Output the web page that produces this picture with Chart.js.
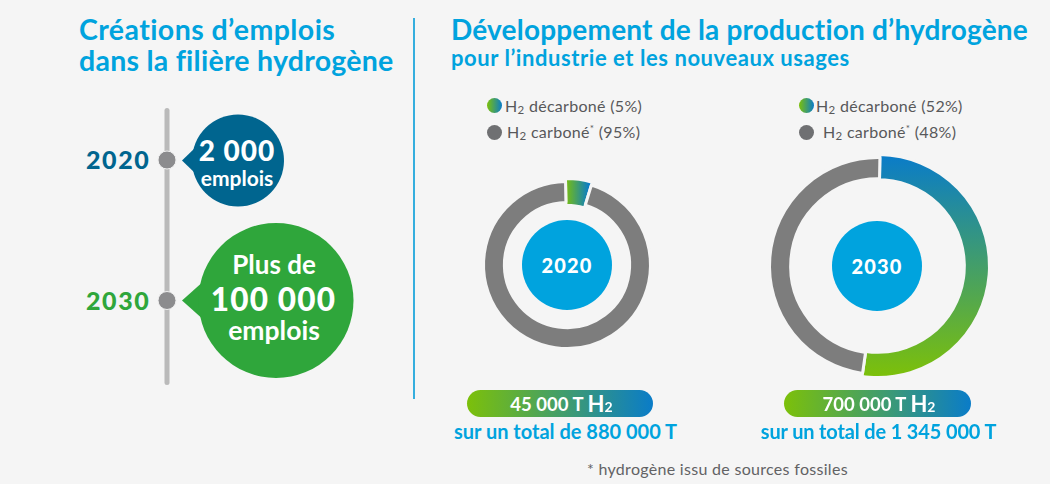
<!DOCTYPE html>
<html lang="fr">
<head>
<meta charset="utf-8">
<title>Hydrogène</title>
<script src="https://cdn.jsdelivr.net/npm/chart.js@4"></script>
<style>
html, body { margin: 0; padding: 0; background: #f5f5f5; }
#page { position: relative; width: 1050px; height: 484px; overflow: hidden; background: #f5f5f5; font-family: Lato, sans-serif; }
#page > * { position: absolute; }
.t { white-space: nowrap; line-height: 1; }
.title { color: #00a3de; font-weight: 700; }
.legend { color: #58585a; font-size: 16px; letter-spacing: 0.3px; }
.legend small { font-size: 11.500px; position: relative; top: 2px; }
.legend sup { font-size: 10px; line-height: 0; }
.dot { width: 15px; height: 15px; border-radius: 50%; }
.center { width: 90px; height: 90px; border-radius: 50%; background: #00a3de; color: #fff; font-weight: 900; font-size: 20px; letter-spacing: 1.2px; display: flex; align-items: center; justify-content: center; }
.pill { height: 27px; border-radius: 14px; background: linear-gradient(90deg, #7cc00a, #0a7cc8); color: #fff; font-weight: 700; font-size: 18.500px; display: flex; align-items: center; justify-content: center; padding-left: 3px; box-sizing: border-box; }
.pill small { font-size: 14px; position: relative; top: 3px; }
.pill b { font-size: 22px; font-weight: 700; margin-left: 4px; }
.total { color: #00a3de; font-weight: 700; font-size: 20px; transform: translateX(-50%); }
</style>
</head>
<body>
<div id="page">
  <div class="t title" style="left:79px;top:15px;font-size:28.500px;letter-spacing:0.420px">Créations d’emplois</div>
  <div class="t title" style="left:79px;top:46px;font-size:28.500px;letter-spacing:0.250px">dans la filière hydrogène</div>
  <div class="t title" style="left:451px;top:15px;font-size:28px;letter-spacing:0.190px">Développement de la production d’hydrogène</div>
  <div class="t title" style="left:451px;top:47px;font-size:22px;letter-spacing:0.560px">pour l’industrie et les nouveaux usages</div>
  <div style="left:413px;top:18px;width:2px;height:381px;background:#35aede"></div>

  <svg style="left:0;top:0" width="412" height="484">
    <rect x="164.500" y="108" width="5" height="277" rx="2.500" fill="#bababa"/>
    <circle cx="167" cy="160" r="9" fill="#8c8c8e" stroke="#f0f0f0"/>
    <circle cx="167" cy="300.500" r="9" fill="#8c8c8e" stroke="#f0f0f0"/>
    <path d="M182 160.500 L197 146 L197 175 Z" fill="#00658f"/>
    <circle cx="238" cy="160.500" r="46" fill="#00658f"/>
    <path d="M182 300.500 L205 280 L205 321 Z" fill="#2fa63b"/>
    <circle cx="276" cy="300.500" r="77.500" fill="#2fa63b"/>
  </svg>

  <div class="t" id="year1" style="left:86px;top:147px;font-size:25px;font-weight:900;color:#00658f;letter-spacing:1.600px"></div>
  <div class="t" id="year2" style="left:86px;top:288px;font-size:25px;font-weight:900;color:#2fa63b;letter-spacing:1.600px"></div>
  <div class="t" id="jobs1" style="left:237px;top:136px;font-size:28px;font-weight:900;color:#fff;transform:translateX(-50%);letter-spacing:1px"></div>
  <div class="t" style="left:237px;top:167px;font-size:21px;font-weight:700;color:#fff;transform:translateX(-50%)">emplois</div>
  <div class="t" style="left:274px;top:251px;font-size:26px;font-weight:700;color:#fff;transform:translateX(-50%)">Plus de</div>
  <div class="t" id="jobs2" style="left:273.500px;top:284px;font-size:31.500px;font-weight:900;color:#fff;transform:translateX(-50%);letter-spacing:1.200px"></div>
  <div class="t" style="left:274px;top:317px;font-size:26.500px;font-weight:700;color:#fff;transform:translateX(-50%)">emplois</div>

  <div class="dot" style="left:487px;top:98px;background:linear-gradient(90deg,#7cc00a,#0a7cc8)"></div>
  <div class="dot" style="left:487px;top:125px;background:#6f7072"></div>
  <div class="t legend" id="leg1a" style="left:505px;top:98px"></div>
  <div class="t legend" id="leg1b" style="left:507px;top:124px"></div>

  <div class="dot" style="left:799px;top:98px;background:linear-gradient(90deg,#7cc00a,#0a7cc8)"></div>
  <div class="dot" style="left:799px;top:125px;background:#6f7072"></div>
  <div class="t legend" id="leg2a" style="left:816px;top:98px"></div>
  <div class="t legend" id="leg2b" style="left:823px;top:124px"></div>

  <canvas id="donut1" width="240" height="240" style="left:447px;top:145px"></canvas>
  <canvas id="donut2" width="260" height="260" style="left:748px;top:136px"></canvas>

  <div class="center" id="center1" style="left:522px;top:220px"></div>
  <div class="center" id="center2" style="left:832px;top:221px"></div>

  <div class="pill" id="pill1" style="left:467px;top:390px;width:186px"></div>
  <div class="pill" id="pill2" style="left:784px;top:390px;width:187px"></div>
  <div class="t total" id="total1" style="left:565.500px;top:421px"></div>
  <div class="t total" id="total2" style="left:878.500px;top:421px;letter-spacing:-0.150px"></div>

  <div class="t" style="left:587px;top:461px;font-size:16px;color:#626264;letter-spacing:0.300px">* hydrogène issu de sources fossiles</div>
</div>

<script>
let years = ["2020", "2030"];
let jobs = ["2 000", "100 000"];
let decarbone = [5, 52];
let carbone = [95, 48];
let tonnesH2 = ["45 000", "700 000"];
let totals = ["880 000", "1 345 000"];
let sliceNames = ["H2 décarboné", "H2 carboné*"];

let bg = "#f5f5f5";
let grey = "#7d7d7d";

document.getElementById("year1").textContent = years[0];
document.getElementById("year2").textContent = years[1];
document.getElementById("jobs1").textContent = jobs[0];
document.getElementById("jobs2").textContent = jobs[1];

for (let i = 0; i < 2; i++) {
  let n = i + 1;
  document.getElementById("center" + n).textContent = years[i];
  document.getElementById("leg" + n + "a").innerHTML = "H<small>2</small> décarboné (" + decarbone[i] + "%)";
  document.getElementById("leg" + n + "b").innerHTML = "H<small>2</small> carboné<sup>*</sup> (" + carbone[i] + "%)";
  document.getElementById("pill" + n).innerHTML = tonnesH2[i] + " T<b>H</b><small>2</small>";
  document.getElementById("total" + n).textContent = "sur un total de " + totals[i] + " T";
}

// the coloured slice sticks out a little from the grey ring
function makeDonut(id, idx, radius, cutout, growOut, growIn, rotation, gradientFn) {
  new Chart(document.getElementById(id), {
    type: "doughnut",
    data: {
      labels: sliceNames,
      datasets: [{
        data: [decarbone[idx], carbone[idx]],
        backgroundColor: function (c) {
          if (c.dataIndex === 1) return grey;
          if (!c.chart.chartArea) return "#7cc00a";
          return gradientFn(c.chart);
        },
        borderColor: bg,
        borderWidth: 3
      }]
    },
    options: {
      responsive: false,
      animation: false,
      rotation: rotation,
      radius: radius,
      cutout: cutout,
      plugins: { legend: { display: false } }
    },
    plugins: [{
      id: "grow",
      afterDatasetsUpdate: function (chart) {
        let arc = chart.getDatasetMeta(0).data[0];
        arc.outerRadius += growOut;
        arc.innerRadius -= growIn;
      }
    }]
  });
}

makeDonut("donut1", 0, 83.5, "75%", 3, 3, -1, function (chart) {
  let a = chart.chartArea;
  let cx = (a.left + a.right) / 2;
  let g = chart.ctx.createLinearGradient(cx - 2, 0, cx + 22, 0);
  g.addColorStop(0, "#7cc00a");
  g.addColorStop(1, "#0a7cc8");
  return g;
});

makeDonut("donut2", 1, 108.5, "80.500%", 3, 1, 1, function (chart) {
  let a = chart.chartArea;
  let cy = (a.top + a.bottom) / 2;
  let g = chart.ctx.createLinearGradient(0, cy - 110, 0, cy + 110);
  g.addColorStop(0, "#0a7cc8");
  g.addColorStop(1, "#7cc00a");
  return g;
});
</script>
</body>
</html>
